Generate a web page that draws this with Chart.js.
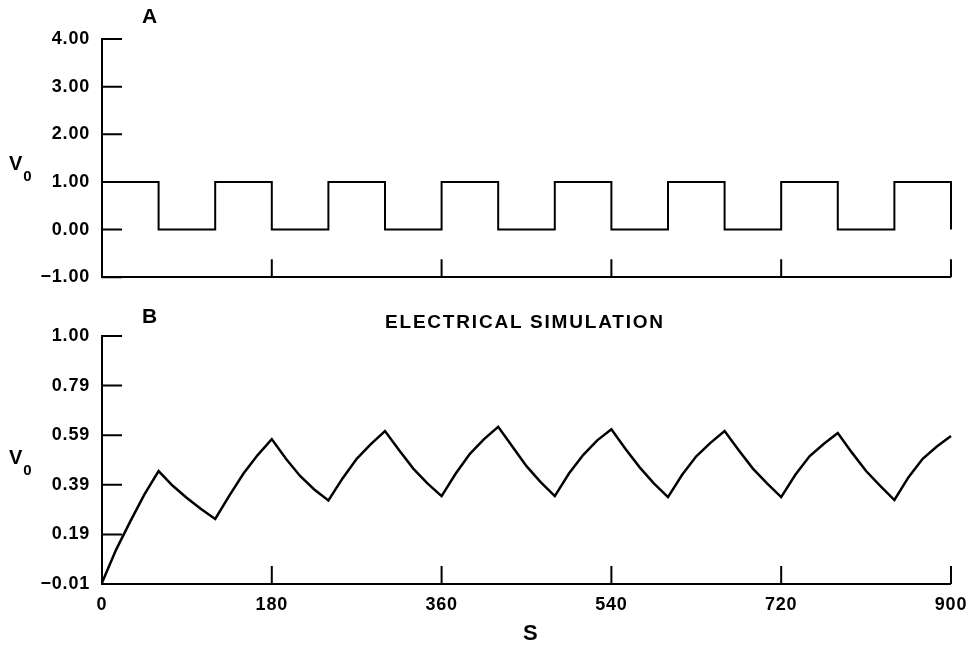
<!DOCTYPE html>
<html>
<head>
<meta charset="utf-8">
<script src="https://cdn.jsdelivr.net/npm/chart.js@4"></script>
<style>
  body { margin: 0; background: #fff; width: 976px; height: 646px; position: relative; overflow: hidden; }
  canvas { position: absolute; left: 0; display: block; }
  .lbl { position: absolute; font-family: "Liberation Sans", Arial, sans-serif; font-weight: bold; color: #000; line-height: 1; white-space: nowrap; }
</style>
</head>
<body>
<canvas id="chartA" width="976" height="300" style="top:0"></canvas>
<canvas id="chartB" width="976" height="346" style="top:300px"></canvas>

<div class="lbl" style="left:142px; top:5px; font-size:21px">A</div>
<div class="lbl" style="left:142px; top:305px; font-size:21px">B</div>
<div class="lbl" style="left:385px; top:312px; font-size:19px; letter-spacing:1.8px">ELECTRICAL SIMULATION</div>
<div class="lbl" style="left:9px; top:153px; font-size:20px">V<span style="font-size:15px; position:relative; top:11px; left:1px">0</span></div>
<div class="lbl" style="left:9px; top:447px; font-size:20px">V<span style="font-size:15px; position:relative; top:11px; left:1px">0</span></div>
<div class="lbl" style="left:523px; top:622px; font-size:22px">S</div>

<script>
// panel A: square wave input
const squareT = [0, 60, 120, 180, 240, 300, 360, 420, 480, 540, 600, 660, 720, 780, 840, 900];
const squareV = [1, 0, 1, 0, 1, 0, 1, 0, 1, 0, 1, 0, 1, 0, 1, 0];

// panel B: electrical simulation response
const simT = [0, 15, 30, 45, 60, 75, 90, 105, 120, 135, 150, 165, 180, 195, 210, 225, 240,
              255, 270, 285, 300, 315, 330, 345, 360, 375, 390, 405, 420, 435, 450, 465, 480,
              495, 510, 525, 540, 555, 570, 585, 600, 615, 630, 645, 660, 675, 690, 705, 720,
              735, 750, 765, 780, 795, 810, 825, 840, 855, 870, 885, 900];
const simV = [-0.005, 0.13, 0.245, 0.355, 0.45, 0.39, 0.34, 0.295, 0.255, 0.35, 0.44, 0.515, 0.58,
              0.50, 0.43, 0.375, 0.33, 0.42, 0.50, 0.56, 0.613, 0.535, 0.46, 0.40, 0.348,
              0.44, 0.52, 0.58, 0.63, 0.55, 0.47, 0.405, 0.348, 0.44, 0.515, 0.575, 0.62,
              0.54, 0.465, 0.40, 0.344, 0.435, 0.51, 0.565, 0.613, 0.535, 0.46, 0.40, 0.344,
              0.435, 0.51, 0.56, 0.605, 0.525, 0.45, 0.39, 0.332, 0.425, 0.50, 0.55, 0.593];

// tick labels
const xTicks = [0, 180, 360, 540, 720, 900];
const yTicksA = [-1, 0, 1, 2, 3, 4];
const yLabelsA = ['\u22121.00', '0.00', '1.00', '2.00', '3.00', '4.00'];
const yTicksB = [-0.01, 0.192, 0.394, 0.596, 0.798, 1.00];
const yLabelsB = ['\u22120.01', '0.19', '0.39', '0.59', '0.79', '1.00'];

const tickFont = { family: '"Liberation Sans", Arial, sans-serif', size: 18, weight: 'bold' };

// tick marks pointing into the plot, and a little letter spacing for the labels
const inwardTicks = {
  id: 'inwardTicks',
  beforeDraw(chart) {
    chart.ctx.letterSpacing = '0.8px';
  },
  afterDraw(chart) {
    const ctx = chart.ctx;
    const area = chart.chartArea;
    ctx.save();
    ctx.strokeStyle = '#000';
    ctx.lineWidth = 2;
    ctx.beginPath();
    chart.scales.y.ticks.forEach(t => {
      const py = chart.scales.y.getPixelForValue(t.value);
      ctx.moveTo(area.left, py);
      ctx.lineTo(area.left + 20, py);
    });
    chart.scales.x.ticks.forEach(t => {
      if (t.value === 0) return;
      const px = chart.scales.x.getPixelForValue(t.value);
      ctx.moveTo(px, area.bottom);
      ctx.lineTo(px, area.bottom - 18);
    });
    ctx.stroke();
    ctx.restore();
  }
};

function makeChart(id, t, v, opts) {
  return new Chart(document.getElementById(id), {
    type: 'line',
    data: {
      datasets: [{
        data: t.map((x, i) => ({ x: x, y: v[i] })),
        borderColor: '#000',
        borderWidth: opts.lw,
        pointRadius: 0,
        stepped: opts.stepped,
        tension: 0,
        clip: 4
      }]
    },
    options: {
      responsive: false,
      animation: false,
      events: [],
      layout: { padding: { top: opts.top, right: 21, left: 0, bottom: 0 } },
      plugins: { legend: { display: false }, tooltip: { enabled: false } },
      scales: {
        x: {
          type: 'linear',
          min: 0, max: 900,
          afterBuildTicks: s => { s.ticks = xTicks.map(x => ({ value: x })); },
          afterFit: s => { s.height = opts.xh; },
          grid: { display: true, drawOnChartArea: false, drawTicks: false },
          border: { display: true, color: '#000', width: 2 },
          ticks: {
            display: true,
            color: opts.showX ? '#000' : 'rgba(0,0,0,0)',
            font: tickFont,
            padding: 10,
            maxRotation: 0,
            autoSkip: false
          }
        },
        y: {
          min: opts.ymin, max: opts.ymax,
          afterBuildTicks: s => { s.ticks = opts.yt.map(y => ({ value: y })); },
          afterFit: s => { s.width = 102; },
          grid: { display: true, drawOnChartArea: false, drawTicks: false },
          border: { display: true, color: '#000', width: 2 },
          ticks: {
            color: '#000',
            font: tickFont,
            padding: 12,
            callback: (val, i) => opts.yl[i]
          }
        }
      }
    },
    plugins: [inwardTicks]
  });
}

makeChart('chartA', squareT, squareV, {
  stepped: 'before', lw: 2, top: 39, xh: 12, showX: false,
  ymin: -1, ymax: 4, yt: yTicksA, yl: yLabelsA
});

makeChart('chartB', simT, simV, {
  stepped: false, lw: 2.5, top: 36, xh: 62, showX: true,
  ymin: -0.01, ymax: 1.00, yt: yTicksB, yl: yLabelsB
});
</script>
</body>
</html>
